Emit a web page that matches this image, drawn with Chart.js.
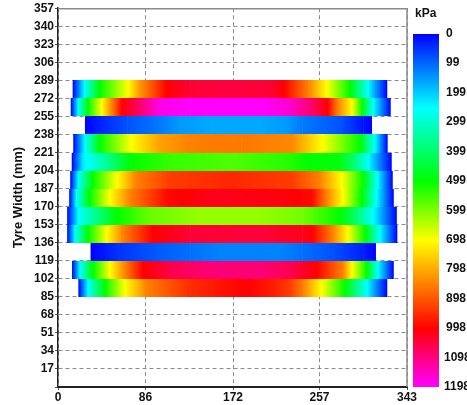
<!DOCTYPE html>
<html>
<head>
<meta charset="utf-8">
<script src="https://cdn.jsdelivr.net/npm/chart.js@4/dist/chart.umd.min.js"></script>
<style>
  html, body { margin: 0; padding: 0; background: #fff; }
  canvas { display: block; }
</style>
</head>
<body>
<canvas id="c" width="467" height="405"></canvas>
<script>
// Lower edge (mm across the tyre width) of each measured band, top band first
const bandLow = [272, 255, 238, 221, 204, 187, 170, 153, 136, 119, 102, 85];
const bandHeight = 17;

// Positions along the contact length (mm) where each band was sampled
const stripPos = [
  [14.4, 26, 41, 69, 80, 107, 130, 170, 210, 222, 246, 264, 287, 305, 323.6],
  [12.5, 20, 29.5, 43, 53, 63, 84, 100, 130, 200, 228, 250, 265, 275, 289, 299, 310, 327],
  [26.5, 45, 68, 100, 120, 150, 200, 225, 240, 278, 300, 308.6],
  [15, 26.5, 41, 72, 100, 130, 180, 230, 260, 297, 311.5, 324],
  [13.5, 24.6, 44, 71, 110, 170, 225, 245, 275, 290, 305, 328],
  [12, 20, 34, 58, 77, 110, 170, 230, 257, 279, 300, 314, 329],
  [11, 18, 31, 51, 71, 107, 150, 220, 250, 264, 280, 298.5, 313, 330],
  [9, 20, 34, 58, 90, 140, 200, 240, 277, 295, 310, 333],
  [9, 16.7, 29.5, 48, 64, 93, 130, 200, 240, 250, 270, 285, 302, 316.5, 333.5],
  [32, 60, 100, 130, 160, 220, 240, 270, 300, 312.5],
  [13.8, 21.6, 34.4, 51, 66, 83.5, 113, 150, 200, 230, 254.5, 280, 289, 303.7, 314.5, 330],
  [20, 29.5, 46, 66, 87.5, 130, 185, 210, 228, 241, 259, 282, 303.7, 323.6]
];

// Contact pressure (kPa) at those positions
const stripKPa = [
  [0, 250, 500, 700, 820, 1000, 1040, 1050, 1040, 1000, 850, 700, 500, 250, 0],
  [0, 250, 500, 700, 850, 1000, 1100, 1180, 1198, 1198, 1160, 1080, 1000, 850, 700, 500, 250, 0],
  [0, 40, 80, 120, 150, 165, 165, 150, 120, 80, 20, 0],
  [0, 250, 500, 700, 810, 850, 860, 840, 700, 500, 250, 0],
  [0, 230, 330, 500, 540, 560, 530, 500, 490, 400, 250, 0],
  [0, 250, 500, 700, 850, 930, 955, 930, 850, 700, 500, 250, 0],
  [0, 250, 500, 700, 850, 990, 1020, 1010, 990, 850, 700, 500, 250, 0],
  [0, 250, 340, 500, 580, 615, 615, 590, 500, 380, 250, 0],
  [0, 250, 500, 700, 850, 1000, 1040, 1045, 1020, 1000, 850, 700, 500, 250, 0],
  [0, 50, 90, 110, 128, 128, 110, 80, 30, 0],
  [0, 250, 500, 700, 850, 1000, 1060, 1090, 1090, 1060, 1000, 850, 700, 500, 250, 0],
  [0, 250, 500, 700, 850, 950, 1000, 970, 930, 850, 700, 500, 250, 0]
];

const xTicks = [0, 86, 172, 257, 343];
const scaleLabels = [0, 99, 199, 299, 399, 499, 599, 698, 798, 898, 998, 1098, 1198];
const scaleMax = 1198;

// Colour ramp: blue -> cyan -> green -> yellow -> red -> magenta
const rampStops = [
  [0, [0, 0, 255]],
  [250, [0, 255, 255]],
  [500, [0, 255, 0]],
  [700, [255, 255, 0]],
  [1000, [255, 0, 0]],
  [1198, [255, 0, 255]]
];

function colourFor(v) {
  v = Math.max(0, Math.min(scaleMax, v));
  for (let i = 0; i < rampStops.length - 1; i++) {
    const [a, ca] = rampStops[i];
    const [b, cb] = rampStops[i + 1];
    if (v <= b) {
      const t = (v - a) / (b - a);
      const c = ca.map((k, j) => Math.round(k + (cb[j] - k) * t));
      return `rgb(${c[0]},${c[1]},${c[2]})`;
    }
  }
  const c = rampStops[rampStops.length - 1][1];
  return `rgb(${c[0]},${c[1]},${c[2]})`;
}

const FONT = "'Liberation Sans', Arial, sans-serif";
const TEXT = '#111';

const datasets = bandLow.map((low, i) => ({
  label: String(low),
  band: low,
  data: stripPos[i].map((x, j) => ({ x: x, y: low + bandHeight / 2, kPa: stripKPa[i][j] })),
  pointRadius: 0,
  showLine: false
}));

// Paints every band as a shaded strip between its sampled positions
const stripPainter = {
  id: 'stripPainter',
  beforeDatasetsDraw(chart) {
    const { ctx, scales: { x, y } } = chart;
    ctx.save();
    chart.data.datasets.forEach(ds => {
      const yTop = Math.round(y.getPixelForValue(ds.band + bandHeight));
      const yBot = Math.round(y.getPixelForValue(ds.band));
      const pts = ds.data;
      for (let i = 0; i < pts.length - 1; i++) {
        const p0 = x.getPixelForValue(pts[i].x);
        const p1 = x.getPixelForValue(pts[i + 1].x);
        const v0 = pts[i].kPa, v1 = pts[i + 1].kPa;
        const g = ctx.createLinearGradient(p0, 0, p1, 0);
        g.addColorStop(0, colourFor(v0));
        rampStops.forEach(([s]) => {
          const lo = Math.min(v0, v1), hi = Math.max(v0, v1);
          if (s > lo && s < hi) g.addColorStop((s - v0) / (v1 - v0), colourFor(s));
        });
        g.addColorStop(1, colourFor(v1));
        ctx.fillStyle = g;
        const extra = i < pts.length - 2 ? 0.6 : 0;
        ctx.fillRect(p0, yTop, p1 - p0 + extra, yBot - yTop);
      }
    });
    ctx.restore();
  },
  afterDraw(chart) {
    const { ctx, chartArea: a } = chart;
    ctx.save();
    // frame on top and right
    ctx.strokeStyle = '#8a8a8a';
    ctx.lineWidth = 1.5;
    ctx.setLineDash([]);
    ctx.beginPath();
    ctx.moveTo(a.left, a.top + 0.5);
    ctx.lineTo(a.right, a.top + 0.5);
    ctx.lineTo(a.right, a.bottom);
    ctx.stroke();

    // colour bar
    const barL = 413, barR = 439, barT = 34, barB = 387;
    const g = ctx.createLinearGradient(0, barT, 0, barB);
    rampStops.forEach(([s]) => g.addColorStop(s / scaleMax, colourFor(s)));
    ctx.fillStyle = g;
    ctx.fillRect(barL, barT, barR - barL, barB - barT);

    ctx.fillStyle = TEXT;
    ctx.font = `bold 12px ${FONT}`;
    ctx.textBaseline = 'middle';
    ctx.textAlign = 'left';
    ctx.fillText('kPa', 415, 14);
    scaleLabels.forEach(v => {
      const yy = barT + (v / scaleMax) * (barB - barT);
      const xx = String(v).length > 3 ? 444 : 446;
      ctx.fillText(String(v), xx, yy);
    });
    ctx.restore();
  }
};

new Chart(document.getElementById('c'), {
  type: 'scatter',
  data: { datasets },
  options: {
    responsive: false,
    animation: false,
    events: [],
    layout: { padding: { top: 8, right: 60, left: 0, bottom: 0 } },
    plugins: { legend: { display: false }, tooltip: { enabled: false } },
    scales: {
      x: {
        type: 'linear',
        min: 0,
        max: 343,
        afterBuildTicks(scale) { scale.ticks = xTicks.map(v => ({ value: v })); },
        afterFit(scale) { scale.height = 18; },
        grid: { color: '#8c8c8c', lineWidth: 1, drawTicks: true, tickLength: 3, tickColor: '#555' },
        border: { display: true, color: '#222', width: 2, dash: [4, 3] },
        ticks: {
          padding: 0,
          color: TEXT,
          font: { family: FONT, size: 12, weight: 'bold' },
          maxRotation: 0,
          autoSkip: false,
          callback: v => String(v)
        }
      },
      y: {
        type: 'linear',
        min: 0,
        max: 357,
        afterFit(scale) { scale.width = 58; },
        grid: { color: '#8c8c8c', lineWidth: 1, drawTicks: true, tickLength: 3, tickColor: '#555' },
        border: { display: true, color: '#222', width: 1.5, dash: [4, 3] },
        ticks: {
          stepSize: 17,
          padding: 1,
          color: TEXT,
          autoSkip: false,
          font: { family: FONT, size: 12, weight: 'bold' },
          callback: v => (v === 0 ? '' : String(v))
        },
        title: {
          display: true,
          text: 'Tyre Width (mm)',
          color: TEXT,
          font: { family: FONT, size: 13, weight: 'bold' },
          padding: { top: 11, bottom: 0 }
        }
      }
    }
  },
  plugins: [stripPainter]
});
</script>
</body>
</html>
